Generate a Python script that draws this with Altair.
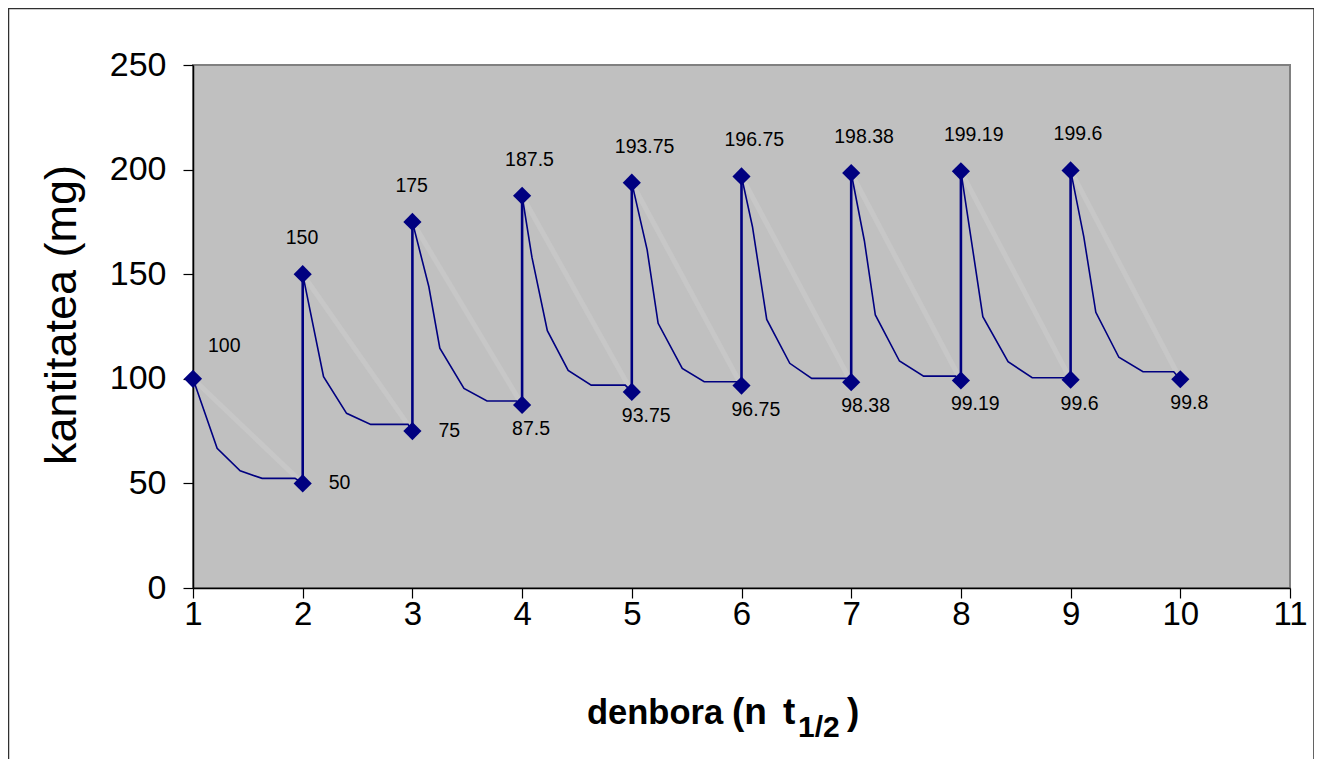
import altair as alt
import pandas as pd

# ---- data ----
peak_x = [1, 2, 3, 4, 5, 6, 7, 8, 9]
peaks = [100, 150, 175, 187.5, 193.75, 196.75, 198.38, 199.19, 199.6]
trough_x = [2, 3, 4, 5, 6, 7, 8, 9, 10]
troughs = [50, 75, 87.5, 93.75, 96.75, 98.38, 99.19, 99.6, 99.8]

# decay curves (peak -> next trough), one segment id per dosing interval
curve_seg = [1]*6 + [2]*5 + [3]*6 + [4]*6 + [5]*6 + [6]*6 + [7]*6 + [8]*6 + [9]*6
curve_x = [1, 1.22, 1.43, 1.63, 1.93, 2,
           2, 2.19, 2.40, 2.62, 2.96,
           3, 3.15, 3.25, 3.47, 3.68, 3.95,
           4, 4.09, 4.23, 4.42, 4.63, 4.94,
           5, 5.14, 5.24, 5.46, 5.66, 5.96,
           6, 6.10, 6.23, 6.44, 6.64, 6.96,
           7, 7.12, 7.22, 7.44, 7.66, 7.95,
           8, 8.09, 8.20, 8.43, 8.65, 8.97,
           9, 9.12, 9.23, 9.44, 9.66, 9.94]
curve_y = [100, 66.8, 56, 52.4, 52.4, 50,
           150, 101, 83.5, 78.2, 78.2,
           175, 144, 114.6, 95.4, 89.4, 89.4,
           187.5, 158, 123, 104, 97, 97,
           193.75, 161.6, 126.5, 105, 98.6, 98.6,
           196.75, 172.7, 128.4, 107.4, 100.2, 100.2,
           198.38, 166, 130.5, 108.5, 101.3, 101.3,
           199.19, 168, 129.7, 108.2, 100.5, 100.5,
           199.6, 168, 131.8, 110.3, 103.4, 103.4]
x_ticks = list(range(1, 12))
y_ticks = [0, 50, 100, 150, 200, 250]
y_title = "kantitatea (mg)"
x_title_main = "denbora"
x_title_open = "(n"
x_title_t = "t"
x_title_sub = "1/2"
x_title_close = ")"

# ---- tables ----
curve_rows = []
order = 0
for s, x, y in zip(curve_seg, curve_x, curve_y):
    curve_rows.append({"seg": s, "x": x, "y": y, "o": order})
    order += 1
for s in range(2, 10):
    curve_rows.append({"seg": s, "x": trough_x[s - 1], "y": troughs[s - 1], "o": order})
    order += 1
curves = pd.DataFrame(curve_rows)

pts = pd.DataFrame(
    [{"x": x, "y": y, "lab": f"{y:g}", "kind": "peak"} for x, y in zip(peak_x, peaks)]
    + [{"x": x, "y": y, "lab": f"{y:g}", "kind": "trough"} for x, y in zip(trough_x, troughs)]
)

verts = pd.DataFrame({"x": peak_x[1:], "y": troughs[:-1], "y2": peaks[1:]})
ghost = pd.DataFrame({"x": peak_x, "y": peaks, "x2": trough_x, "y2": troughs})
one = pd.DataFrame({"d": [0]})

FONT = "Liberation Sans"
NAVY = "#000080"

xs = alt.Scale(domain=[1, 11], nice=False, zero=False)
ys = alt.Scale(domain=[0, 250], nice=False)

X = alt.X("x:Q", scale=xs,
          axis=alt.Axis(values=x_ticks, format="d", grid=False, title=None,
                        labelFontSize=33, labelFont=FONT, labelColor="black",
                        labelFlush=False, labelOverlap=False,
                        tickSize=10, tickColor="black", tickWidth=1.2,
                        domainColor="black", domainWidth=1.5, labelPadding=0))
Y = alt.Y("y:Q", scale=ys,
          axis=alt.Axis(values=y_ticks, grid=False, title=None,
                        labelFontSize=34, labelFont=FONT, labelColor="black",
                        labelFlush=False, labelOverlap=False,
                        tickSize=10, tickColor="black", tickWidth=1.2,
                        domainColor="black", domainWidth=1.5, labelPadding=17))

base_axes = alt.Chart(ghost).mark_rule(opacity=0).encode(x=X, y=Y)

ghost_l = alt.Chart(ghost).mark_rule(color="#c7c7c7", strokeWidth=5).encode(
    x=alt.X("x:Q", scale=xs), y=alt.Y("y:Q", scale=ys), x2="x2", y2="y2")

curve_l = alt.Chart(curves).mark_line(color=NAVY, strokeWidth=1.6).encode(
    x=alt.X("x:Q", scale=xs), y=alt.Y("y:Q", scale=ys),
    detail="seg:N", order="o:Q")

vert_l = alt.Chart(verts).mark_rule(color=NAVY, strokeWidth=2.6).encode(
    x=alt.X("x:Q", scale=xs), y=alt.Y("y:Q", scale=ys), y2="y2")

pts_l = alt.Chart(pts).mark_point(shape="diamond", filled=True, size=330,
                                  color=NAVY, opacity=1).encode(
    x=alt.X("x:Q", scale=xs), y=alt.Y("y:Q", scale=ys))


def lab(df, dx, dy, align="left"):
    return alt.Chart(df).mark_text(font=FONT, fontSize=19.5, color="black",
                                   dx=dx, dy=dy, align=align,
                                   baseline="middle").encode(
        x=alt.X("x:Q", scale=xs), y=alt.Y("y:Q", scale=ys), text="lab:N")


first = pts[(pts.kind == "peak") & (pts.x == 1)]
peaks_df = pts[(pts.kind == "peak") & (pts.x > 1)]
tr_a = pts[(pts.kind == "trough") & (pts.x <= 3)]
tr_b = pts[(pts.kind == "trough") & (pts.x > 3)]


def free_text(txt, px, py, size, weight="normal", angle=0, align="left",
              baseline="alphabetic"):
    kw = dict(text=txt, font=FONT, fontSize=size, fontWeight=weight,
              align=align, baseline=baseline, color="black", clip=False)
    if angle:
        kw["angle"] = angle
    return alt.Chart(one).mark_text(**kw).encode(
        x=alt.value(px), y=alt.value(py))


# page px -> plot coords: x - 193, y - 65
ytitle = free_text(y_title, 62 - 193, 315 - 65, 45, angle=270,
                   align="center", baseline="middle")
xt1 = free_text(x_title_main, 587 - 193, 724 - 65, 34.5, "bold")
xt2 = free_text(x_title_open, 732 - 193, 724 - 65, 37, "bold")
xt3 = free_text(x_title_t, 783 - 193, 724 - 65, 37, "bold")
xt4 = free_text(x_title_sub, 798 - 193, 737 - 65, 30, "bold")
xt5 = free_text(x_title_close, 847 - 193, 724 - 65, 37, "bold")

border = alt.Chart(one).mark_rect(
    fill=None, stroke="#303030", strokeWidth=1.5, clip=False).encode(
    x=alt.value(-184.5), x2=alt.value(1121), y=alt.value(-56.5), y2=alt.value(720))

chart = alt.layer(
    base_axes, ghost_l, curve_l, vert_l, pts_l,
    lab(first, 15, -33), lab(peaks_df, -17, -36),
    lab(tr_a, 26, 0), lab(tr_b, -10, 24),
    ytitle, xt1, xt2, xt3, xt4, xt5,
    border,
).properties(
    width=1097, height=523,
    padding={"left": 185, "top": 57, "right": 24, "bottom": 171},
    autosize=alt.AutoSizeParams(type="none"),
    background="white",
).configure_view(
    fill="#c0c0c0", stroke="#808080", strokeWidth=2
)

chart.save("out.html", embed_options={"renderer": "svg", "actions": False})
